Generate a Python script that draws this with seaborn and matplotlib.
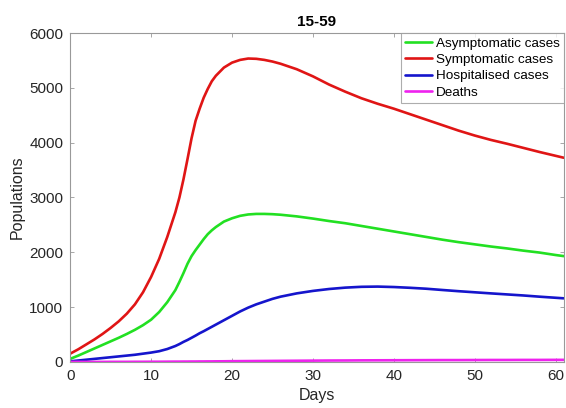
import numpy as np
import pandas as pd
import seaborn as sns
import matplotlib
matplotlib.use("Agg")
import matplotlib.pyplot as plt

days = [0, 1, 2, 3, 4, 5, 6, 7, 8, 9, 10, 11, 12, 13,
        13.5, 14, 14.5, 15, 15.5, 16, 16.5, 17, 17.5, 18,
        19, 20, 21, 22, 23, 24, 25, 26,
        28, 30, 32, 34, 36, 38, 40, 42, 44, 46, 48, 50, 52, 54, 56, 58, 60,
        61]
asymptomatic = [55, 115, 180, 245, 310, 375, 440, 510, 585, 670, 770, 910, 1090, 1310,
                1460, 1620, 1790, 1930, 2040, 2140, 2240, 2330, 2400, 2460,
                2560, 2620, 2665, 2690, 2700, 2700, 2695, 2685,
                2655, 2615, 2570, 2530, 2480, 2430, 2380, 2330, 2280, 2230, 2185,
                2145, 2105, 2070, 2030, 1995, 1950,
                1930]
symptomatic = [150, 230, 320, 410, 510, 620, 740, 880, 1050, 1270, 1550, 1880, 2280, 2730,
               3000, 3330, 3700, 4080, 4400, 4620, 4820, 4980, 5120, 5220,
               5370, 5460, 5510, 5535, 5530, 5510, 5480, 5440,
               5340, 5210, 5060, 4930, 4810, 4710, 4620, 4520, 4420, 4320, 4220,
               4130, 4050, 3980, 3905, 3830, 3760,
               3725]
hospitalised = [10, 25, 40, 55, 70, 85, 100, 115, 130, 150, 170, 195, 235, 290,
                325, 365, 400, 440, 480, 523, 560, 600, 640, 680,
                760, 840, 920, 990, 1050, 1100, 1150, 1190,
                1250, 1295, 1330, 1355, 1370, 1374, 1366, 1352, 1335, 1312, 1290,
                1270, 1250, 1231, 1212, 1190, 1170,
                1160]
deaths = [0, 0, 0, 0, 0, 1, 1, 1, 2, 2, 3, 3, 4, 5,
          5, 6, 6, 7, 7, 8, 8, 9, 9, 10,
          11, 13, 14, 15, 16, 17, 18, 19,
          21, 23, 25, 26, 28, 29, 30, 31, 32, 33, 33, 34, 35, 35, 36, 36, 37,
          37]
series_names = ["Asymptomatic cases", "Symptomatic cases", "Hospitalised cases", "Deaths"]
series_colors = ["#22e022", "#e01515", "#1515cc", "#ee22ee"]

frames = []
for name, vals in zip(series_names, [asymptomatic, symptomatic, hospitalised, deaths]):
    frames.append(pd.DataFrame({"Days": days, "Populations": vals, "series": name}))
df = pd.concat(frames, ignore_index=True)

sns.set_style("white")
plt.rcParams["font.family"] = ["Liberation Sans", "DejaVu Sans"]

fig = plt.figure(figsize=(5.66, 4.08), dpi=100)
ax = fig.add_axes([0.124, 0.113, 0.872, 0.806])
sns.lineplot(data=df, x="Days", y="Populations", hue="series",
             hue_order=series_names, palette=series_colors, linewidth=1.9,
             solid_joinstyle="round", solid_capstyle="round", ax=ax)

ax.set_xlim(0, 61)
ax.set_ylim(0, 6000)
ax.set_xticks([0, 10, 20, 30, 40, 50, 60])
ax.set_yticks([0, 1000, 2000, 3000, 4000, 5000, 6000])
ax.tick_params(direction="in", length=3, width=0.6, colors="#999999",
               labelcolor="#262626", labelsize=11, top=True, right=True,
               left=True, bottom=True, pad=5)
for s in ax.spines.values():
    s.set_color("#999999")
    s.set_linewidth(0.8)
ax.set_xlabel("Days", fontsize=11.5, color="#262626", labelpad=4)
ax.set_ylabel("Populations", fontsize=11.5, color="#262626", labelpad=3)
ax.set_title("15-59", fontsize=11, fontweight="bold", color="#000000", pad=5)

leg = ax.legend(loc="upper right", borderaxespad=0, fontsize=9.7, frameon=True,
                fancybox=False, edgecolor="#999999", handlelength=2.0,
                handletextpad=0.3, labelspacing=0.3, borderpad=0.3)
leg.get_frame().set_linewidth(0.8)
for t in leg.get_texts():
    t.set_color("#000000")

fig.savefig("out.png", dpi=100)
